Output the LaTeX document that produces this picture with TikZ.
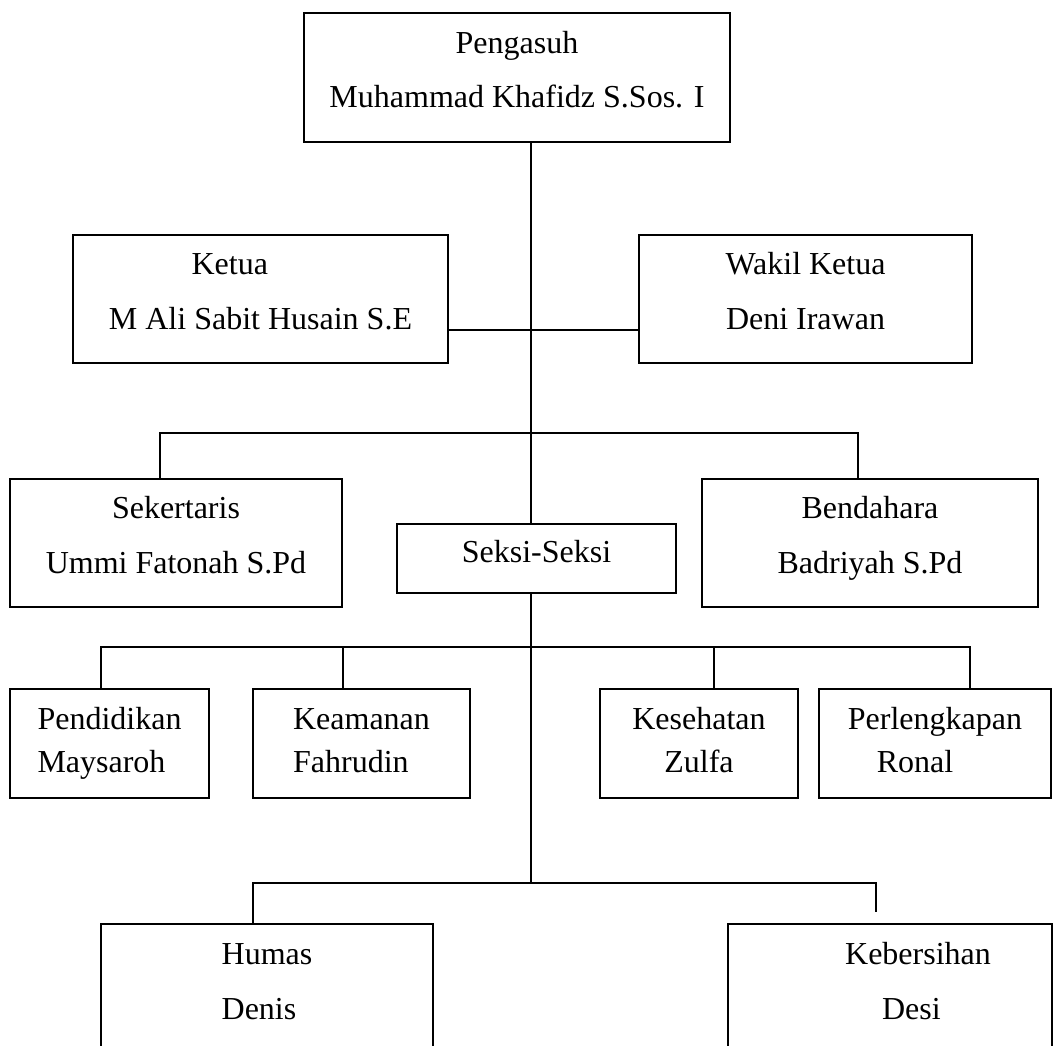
\documentclass[tikz,border=0pt]{standalone}
\usepackage{fontspec}
\setmainfont{Liberation Serif}
\newcommand\pxu{0.375pt}

\begin{document}
\begin{tikzpicture}[x=0.375pt, y=-0.375pt, line width=0.75pt,
    box/.style={draw, inner sep=0pt, align=center, text height=77*\pxu, text depth=16*\pxu,
      font=\fontsize{12pt}{20.6pt}\selectfont},
    smallbox/.style={box, align=left, text height=65*\pxu, text depth=8*\pxu, font=\fontsize{12pt}{16.1pt}\selectfont}]
  \useasboundingbox (0,0) rectangle (1054,1046);
  \clip (0,0) rectangle (1054,1046);

  \node[box, minimum width=426*\pxu, minimum height=129*\pxu] (pengasuh) at (517,77.5) {Pengasuh\\Muhammad Khafidz S.Sos. I};
  \node[box, minimum width=375*\pxu, minimum height=128*\pxu] (ketua) at (260.5,299) {Ketua\hspace*{23pt}\\M Ali Sabit Husain S.E};
  \node[box, minimum width=333*\pxu, minimum height=128*\pxu] (wakil) at (805.5,299) {Wakil Ketua\\Deni Irawan};
  \node[box, minimum width=332*\pxu, minimum height=128*\pxu] (sekertaris) at (176,543) {Sekertaris\\Ummi Fatonah S.Pd};
  \node[box, text height=22*\pxu, text depth=13*\pxu, minimum width=279*\pxu, minimum height=69*\pxu] (seksi) at (536.5,558.5) {Seksi-Seksi};
  \node[box, minimum width=336*\pxu, minimum height=128*\pxu] (bendahara) at (870,543) {Bendahara\\Badriyah S.Pd};

  \node[smallbox, minimum width=199*\pxu, minimum height=109*\pxu] (pendidikan) at (109.5,743.5) {Pendidikan\\Maysaroh};
  \node[smallbox, minimum width=217*\pxu, minimum height=109*\pxu] (keamanan) at (361.5,743.5) {Keamanan\\Fahrudin};
  \node[smallbox, align=center, minimum width=198*\pxu, minimum height=109*\pxu] (kesehatan) at (699,743.5) {Kesehatan\\Zulfa};
  \node[smallbox, align=center, minimum width=232*\pxu, minimum height=109*\pxu] (perlengkapan) at (935,743.5) {Perlengkapan\\Ronal\hspace*{15pt}};

  \node[box, align=left, anchor=north, minimum width=332*\pxu, inner ysep=18*\pxu, text depth=220*\pxu] (humas) at (267,923) {Humas\\Denis};
  \node[box, anchor=north, minimum width=324*\pxu, inner ysep=18*\pxu, text depth=220*\pxu] (kebersihan) at (890,923) {\hspace*{21pt}Kebersihan\\\hspace*{16pt}Desi};

  \coordinate (spine) at (531,0);
  \coordinate (kw) at (531,330);
  \coordinate (bar1l) at (160,433);
  \coordinate (bar1r) at (858,433);
  \coordinate (bar2l) at (101,647);
  \coordinate (bar2r) at (970,647);
  \coordinate (keam) at (343,647);
  \coordinate (kese) at (714,647);
  \coordinate (bar3l) at (253,883);
  \coordinate (bar3r) at (876,883);
  \coordinate (gap) at (876,912);

  \draw (pengasuh.south -| spine) -- (seksi.north -| spine);
  \draw (ketua.east |- kw) -- (wakil.west |- kw);
  \draw (bar1l |- sekertaris.north) -- (bar1l) -- (bar1r) -- (bar1r |- bendahara.north);
  \draw (seksi.south -| spine) -- (bar3l -| spine);
  \draw (bar2l |- pendidikan.north) -- (bar2l) -- (bar2r) -- (bar2r |- perlengkapan.north);
  \draw (keam) -- (keam |- keamanan.north);
  \draw (kese) -- (kese |- kesehatan.north);
  \draw (bar3l |- humas.north) -- (bar3l) -- (bar3r) -- (gap);
\end{tikzpicture}
\end{document}
